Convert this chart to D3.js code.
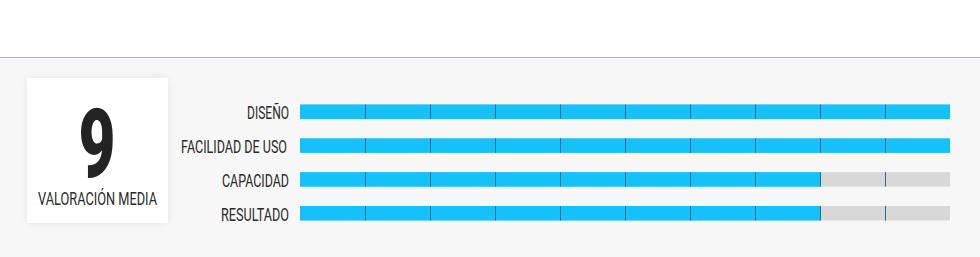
<!DOCTYPE html>
<html>
<head>
<meta charset="utf-8">
<script src="https://cdn.jsdelivr.net/npm/d3@7"></script>
<style>
  body { margin: 0; background: #fff; }
  svg { display: block; }
  .label { font-family: "Roboto", sans-serif; font-size: 18px; fill: #2a2a2a; }
</style>
</head>
<body>
<div id="chart-area"></div>
<script>

// SVG Size
var width = 980,
    height = 257;

// Data
var categories = ["DISEÑO", "FACILIDAD DE USO", "CAPACIDAD", "RESULTADO"];
var scores = [10, 10, 8, 8];
var maxScore = 10;
var average = "9";
var averageLabel = "VALORACIÓN MEDIA";

var svg = d3.select("#chart-area").append("svg")
    .attr("width", width)
    .attr("height", height);

// Panel background + top rule
svg.append("rect")
    .attr("x", 0).attr("y", 57)
    .attr("width", width).attr("height", height - 57)
    .attr("fill", "#f7f7f7");

svg.append("line")
    .attr("x1", 0).attr("x2", width)
    .attr("y1", 57.5).attr("y2", 57.5)
    .attr("stroke", "#7ccbe4")
    .attr("stroke-width", 1);

// Score box with soft shadow
var defs = svg.append("defs");
var shadow = defs.append("filter").attr("id", "soft")
    .attr("x", "-20%").attr("y", "-20%").attr("width", "140%").attr("height", "140%");
shadow.append("feGaussianBlur").attr("in", "SourceAlpha").attr("stdDeviation", 4);
shadow.append("feComponentTransfer").append("feFuncA").attr("type", "linear").attr("slope", 0.08);
var merge = shadow.append("feMerge");
merge.append("feMergeNode");
merge.append("feMergeNode").attr("in", "SourceGraphic");

svg.append("rect")
    .attr("x", 27).attr("y", 78)
    .attr("width", 141).attr("height", 145)
    .attr("fill", "#fff")
    .attr("filter", "url(#soft)");

svg.append("text")
    .attr("x", 97).attr("y", 177)
    .attr("text-anchor", "middle")
    .attr("font-family", "Roboto, sans-serif")
    .attr("font-weight", 900)
    .attr("font-size", 96)
    .attr("textLength", 37)
    .attr("lengthAdjust", "spacingAndGlyphs")
    .attr("fill", "#232323")
    .text(average);

svg.append("text")
    .attr("x", 38).attr("y", 205)
    .attr("font-family", "Roboto, sans-serif")
    .attr("font-size", 18)
    .attr("textLength", 119)
    .attr("lengthAdjust", "spacingAndGlyphs")
    .attr("fill", "#2a2a2a")
    .text(averageLabel);

// Scales
var x = d3.scaleLinear()
    .domain([0, maxScore])
    .range([300, 950]);

var y = d3.scaleBand()
    .domain(categories)
    .range([95, 230])
    .paddingInner(0.57)
    .paddingOuter(0.28);

var labelWidths = { "DISEÑO": 42, "FACILIDAD DE USO": 106, "CAPACIDAD": 67, "RESULTADO": 68 };

var rows = svg.selectAll(".row")
    .data(categories)
    .enter()
    .append("g")
    .attr("class", "row");

// Track
rows.append("rect")
    .attr("x", x(0))
    .attr("y", function(d){ return y(d); })
    .attr("width", x(maxScore) - x(0))
    .attr("height", y.bandwidth())
    .attr("fill", "#d8d8d8");

// Value
rows.append("rect")
    .attr("x", x(0))
    .attr("y", function(d){ return y(d); })
    .attr("width", function(d, i){ return x(scores[i]) - x(0); })
    .attr("height", y.bandwidth())
    .attr("fill", "#14c1f9");

// Dividers
rows.each(function(d) {
    d3.select(this).selectAll("line")
        .data(d3.range(1, maxScore))
        .enter()
        .append("line")
        .attr("x1", function(t){ return x(t) + 0.5; })
        .attr("x2", function(t){ return x(t) + 0.5; })
        .attr("y1", y(d))
        .attr("y2", y(d) + y.bandwidth())
        .attr("stroke", "#1f6f95")
        .attr("stroke-width", 1);
});

// Labels
rows.append("text")
    .attr("class", "label")
    .attr("x", function(d){ return d === "FACILIDAD DE USO" ? 287 : 289; })
    .attr("y", function(d){ return y(d) + y.bandwidth(); })
    .attr("text-anchor", "end")
    .attr("textLength", function(d){ return labelWidths[d]; })
    .attr("lengthAdjust", "spacingAndGlyphs")
    .text(function(d){ return d; });

</script>
</body>
</html>
